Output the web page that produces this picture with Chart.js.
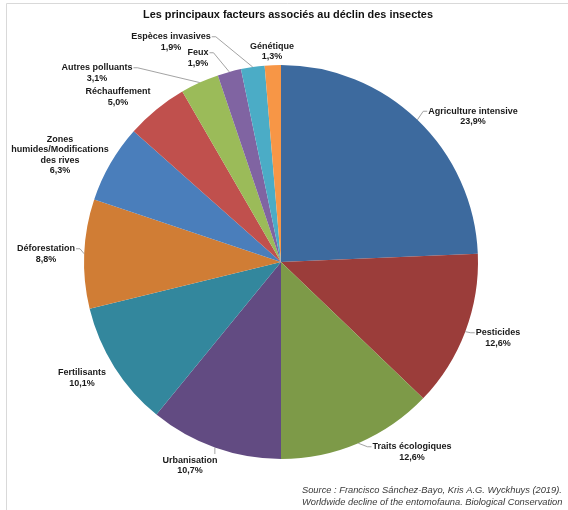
<!DOCTYPE html>
<html>
<head>
<meta charset="utf-8">
<script src="https://cdn.jsdelivr.net/npm/chart.js@4.4.0/dist/chart.umd.min.js"></script>
<style>
    body { margin: 0; background: #fff; }
    canvas { display: block; }
</style>
</head>
<body>
<canvas id="pieChart" width="568" height="510"></canvas>
<script>
const categories = ['Agriculture intensive', 'Pesticides', 'Traits écologiques', 'Urbanisation', 'Fertilisants', 'Déforestation', 'Zones\nhumides/Modifications\ndes rives', 'Réchauffement', 'Autres polluants', 'Feux', 'Espèces invasives', 'Génétique'];
const values = [23.9, 12.6, 12.6, 10.7, 10.1, 8.8, 6.3, 5.0, 3.1, 1.9, 1.9, 1.3];
const sliceColors = ['#3d6a9e', '#9b3d3a', '#7d9a48', '#624b82', '#33879d', '#d07d35', '#4a7ebb', '#c0504d', '#9bbb59', '#8064a2', '#4bacc6', '#f79646'];

// where Excel put each label (block centre) and whether it has a leader line
const labelSpots = [[473, 116.5], [498, 338], [412, 452], [190, 465.5], [82, 378], [46, 254], [60, 155], [118, 97], [97, 73], [198, 58], [171, 42], [272, 51.5]];
const hasLeader = [true, true, true, true, false, true, false, false, true, true, true, false];

const fmtPct = v => v.toFixed(1).replace('.', ',') + '%';

const decorPlugin = {
    id: 'decor',
    beforeDraw(chart) {
        const ctx = chart.ctx;
        ctx.save();
        ctx.strokeStyle = '#d9d9d9';
        ctx.lineWidth = 1;
        ctx.beginPath();
        ctx.moveTo(6.5, 510);
        ctx.lineTo(6.5, 3.5);
        ctx.lineTo(568, 3.5);
        ctx.stroke();
        ctx.restore();
    },
    afterDraw(chart) {
        const ctx = chart.ctx;
        const meta = chart.getDatasetMeta(0);
        const lineH = 10.5;
        ctx.save();

        ctx.fillStyle = '#111';
        ctx.font = 'bold 10.9px "Liberation Sans", Arial, sans-serif';
        ctx.textAlign = 'center';
        ctx.textBaseline = 'middle';
        ctx.fillText('Les principaux facteurs associés au déclin des insectes', 288, 15);

        ctx.fillStyle = '#1a1a1a';
        ctx.font = 'bold 9px "Liberation Sans", Arial, sans-serif';
        meta.data.forEach((arc, i) => {
            const lines = categories[i].split('\n').concat([fmtPct(values[i])]);
            const [lx, ly] = labelSpots[i];
            const h = lines.length * lineH;
            const top = ly - h / 2;
            let w = 0;
            lines.forEach((t, k) => {
                w = Math.max(w, ctx.measureText(t).width);
                ctx.fillText(t, lx, top + lineH * (k + 0.5));
            });

            if (!hasLeader[i]) return;
            const p = arc.getProps(['x', 'y', 'startAngle', 'endAngle', 'outerRadius'], true);
            const mid = (p.startAngle + p.endAngle) / 2;
            const px = p.x + Math.cos(mid) * p.outerRadius;
            const py = p.y + Math.sin(mid) * p.outerRadius;
            const left = lx - w / 2, right = lx + w / 2;
            const firstY = top + lineH / 2;

            ctx.strokeStyle = '#8c8c8c';
            ctx.lineWidth = 0.8;
            ctx.beginPath();
            ctx.moveTo(px, py);
            if (px < left) {
                ctx.lineTo(left - 5, firstY);
                ctx.lineTo(left - 1, firstY);
            } else if (px > right) {
                ctx.lineTo(right + 5, firstY);
                ctx.lineTo(right + 1, firstY);
            } else if (py < top) {
                ctx.lineTo(px, top - 1);
            } else {
                ctx.lineTo(px, top + h + 1);
            }
            ctx.stroke();
        });

        ctx.fillStyle = '#3a3a3a';
        ctx.font = 'italic 9.3px "Liberation Sans", Arial, sans-serif';
        ctx.textAlign = 'left';
        ctx.fillText('Source : Francisco Sánchez-Bayo, Kris A.G. Wyckhuys (2019).', 302, 490);
        ctx.fillText('Worldwide decline of the entomofauna. Biological Conservation', 302, 502);
        ctx.restore();
    }
};

new Chart(document.getElementById('pieChart'), {
    type: 'pie',
    data: {
        labels: categories,
        datasets: [{
            data: values,
            backgroundColor: sliceColors,
            borderWidth: 0
        }]
    },
    options: {
        responsive: false,
        animation: false,
        layout: { padding: { top: 65, bottom: 51, left: 84, right: 90 } },
        plugins: {
            legend: { display: false },
            tooltip: { enabled: false }
        }
    },
    plugins: [decorPlugin]
});
</script>
</body>
</html>
